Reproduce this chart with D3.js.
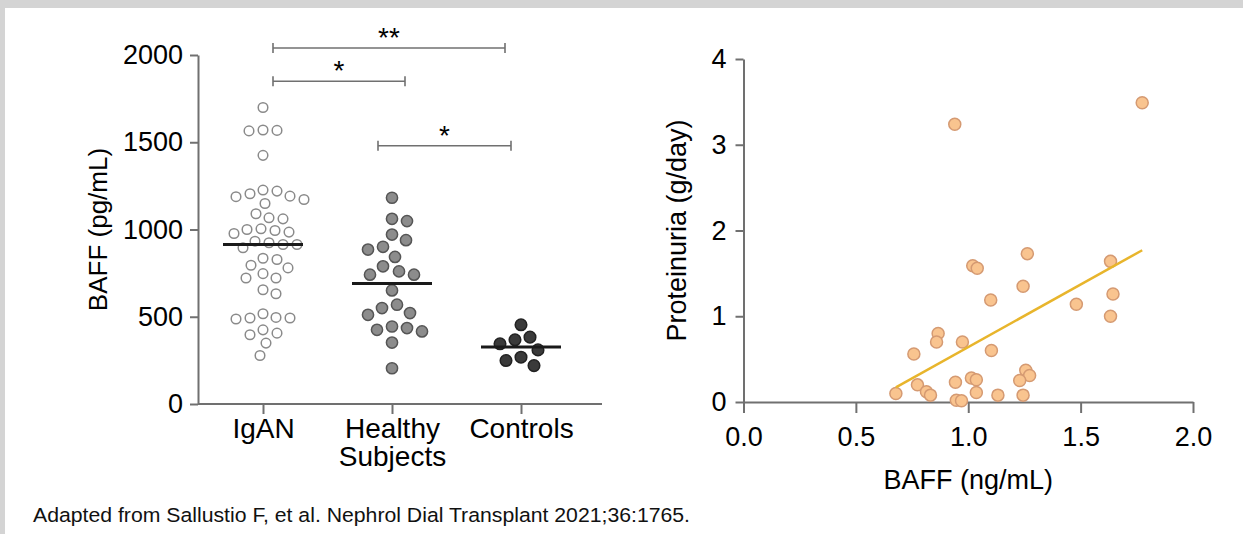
<!DOCTYPE html>
<html>
<head>
<meta charset="utf-8">
<script src="https://cdn.jsdelivr.net/npm/d3@7"></script>
<style>
  body { margin: 0; background: #fff; }
  svg { display: block; font-family: Arial, "Liberation Sans", sans-serif; }
</style>
</head>
<body>
<svg id="chart" width="1243" height="534"></svg>
<script>
// ---- data ----
var categories = ["IgAN", "Healthy Subjects", "Controls"];

var iganBaff = [1699, 1570, 1565, 1568, 1425, 1191, 1149, 1220, 1172, 1188, 1205, 1226,
    1061, 1067, 1090, 1004, 1000, 977, 985, 994, 914, 924, 933, 895, 914,
    835, 795, 828, 780, 747, 722, 722, 655, 632, 493, 493, 496, 487, 517,
    397, 406, 425, 349, 278];
var healthyBaff = [1182, 1061, 1048, 971, 939, 885, 901, 843, 789, 760, 741, 741, 651,
    550, 511, 521, 569, 435, 416, 425, 444, 352, 205];
var controlBaff = [454, 368, 383, 345, 310, 268, 220, 249];
var medians = [914, 690, 326];
var baffTicks = [0, 500, 1000, 1500, 2000];

// significance brackets: from group, to group, level (pg/mL), label
var brackets = [
    { from: 0, to: 2, level: 2040, label: "**" },
    { from: 0, to: 1, level: 1850, label: "*" },
    { from: 1, to: 2, level: 1480, label: "*" }
];

// correlation panel
var corrBaff = [0.94, 1.02, 1.04, 1.10, 0.866, 0.859, 0.974, 0.758, 0.678, 0.774,
    0.814, 0.832, 0.943, 0.947, 0.97, 1.014, 1.036, 1.036, 1.103, 1.774,
    1.263, 1.244, 1.633, 1.644, 1.481, 1.633, 1.256, 1.273, 1.229, 1.132, 1.244];
var corrProt = [3.24, 1.59, 1.56, 1.19, 0.80, 0.70, 0.70, 0.56, 0.10, 0.20,
    0.12, 0.08, 0.23, 0.02, 0.015, 0.28, 0.26, 0.11, 0.60, 3.49,
    1.73, 1.35, 1.64, 1.26, 1.14, 1.00, 0.37, 0.31, 0.25, 0.08, 0.08];
var fitLine = [1.46, -0.82]; // slope, intercept
var xTicksR = [0, 0.5, 1, 1.5, 2];
var yTicksR = [0, 1, 2, 3, 4];

var svg = d3.select("#chart");
var axisColor = "#707070";
var fontFam = "Arial, 'Liberation Sans', sans-serif";

// page frame
svg.append("rect").attr("width", 1243).attr("height", 534).attr("fill", "#fff");
svg.append("rect").attr("width", 1243).attr("height", 8).attr("fill", "#d4d4d4");
svg.append("rect").attr("width", 5).attr("height", 534).attr("fill", "#d4d4d4");

function styleAxis(g, size) {
    g.selectAll("path, line").attr("stroke", axisColor).attr("stroke-width", 2);
    g.selectAll("text").attr("fill", "#000").attr("font-size", size || 27)
        .attr("font-family", fontFam);
}

// ---- left panel: scatter dot plot ----
var yL = d3.scaleLinear().domain([0, 2000]).range([404, 55]);
var xL = d3.scalePoint().domain(categories).range([263, 521]);
var leftAxisX = 198;

svg.append("line")
    .attr("x1", leftAxisX).attr("x2", 602)
    .attr("y1", yL(0)).attr("y2", yL(0))
    .attr("stroke", axisColor).attr("stroke-width", 2);

var gxL = svg.append("g")
    .attr("transform", "translate(0," + yL(0) + ")")
    .call(d3.axisBottom(xL).tickSize(10).tickPadding(4).tickSizeOuter(0));
gxL.select(".domain").remove();
styleAxis(gxL, 28);
gxL.selectAll(".tick text").each(function(d) {
    var t = d3.select(this), words = d.split(" ");
    t.text(null);
    words.forEach(function(w, i) {
        t.append("tspan").attr("x", 0).attr("dy", i ? "1.0em" : null).text(w);
    });
});

var gyL = svg.append("g")
    .attr("transform", "translate(" + leftAxisX + ",0)")
    .call(d3.axisLeft(yL).tickValues(baffTicks).tickFormat(d3.format("d"))
        .tickSize(8).tickPadding(7).tickSizeOuter(0));
styleAxis(gyL, 27);

svg.append("text")
    .attr("transform", "translate(107," + yL(1000) + ") rotate(-90)")
    .attr("text-anchor", "middle")
    .attr("font-size", 26).attr("fill", "#000")
    .text("BAFF (pg/mL)");

// simple beeswarm so dots at similar values spread sideways
function swarm(vals, cx, D) {
    var placed = [];
    vals.slice().sort(function(a, b) { return b - a; }).forEach(function(v) {
        var py = yL(v);
        for (var k = 0; k < 400; k++) {
            var px = cx + (k % 2 ? 1 : -1) * Math.ceil(k / 2);
            var ok = placed.every(function(p) {
                return (p.x - px) * (p.x - px) + (p.y - py) * (p.y - py) >= D * D;
            });
            if (ok) { placed.push({ x: px, y: py, v: v }); break; }
        }
    });
    return placed;
}

var groups = [
    { vals: iganBaff, fill: "#fff", stroke: "#8a8a8a", r: 4.8, gap: 13.5 },
    { vals: healthyBaff, fill: "#8c8c8c", stroke: "#555", r: 5.6, gap: 15 },
    { vals: controlBaff, fill: "#3a3a3a", stroke: "#222", r: 5.8, gap: 15 }
];

groups.forEach(function(gr, i) {
    var cx = xL(categories[i]);
    svg.append("g").selectAll("circle")
        .data(swarm(gr.vals, cx, gr.gap))
        .enter().append("circle")
        .attr("cx", function(d) { return d.x; })
        .attr("cy", function(d) { return d.y; })
        .attr("r", gr.r)
        .attr("fill", gr.fill)
        .attr("stroke", gr.stroke)
        .attr("stroke-width", 1.5);
});

svg.append("g").selectAll("line")
    .data(medians)
    .enter().append("line")
    .attr("x1", function(d, i) { return xL(categories[i]) - 40; })
    .attr("x2", function(d, i) { return xL(categories[i]) + 40; })
    .attr("y1", function(d) { return yL(d); })
    .attr("y2", function(d) { return yL(d); })
    .attr("stroke", "#1a1a1a").attr("stroke-width", 3);

// brackets
var br = svg.append("g");
brackets.forEach(function(b) {
    var x1 = xL(categories[b.from]) + (b.from === 0 ? 10 : -14);
    var x2 = xL(categories[b.to]) + (b.to === 2 ? (b.from === 0 ? -16 : -10) : 13);
    var yy = yL(b.level);
    br.append("line").attr("x1", x1).attr("x2", x2).attr("y1", yy).attr("y2", yy);
    br.append("line").attr("x1", x1).attr("x2", x1).attr("y1", yy - 5).attr("y2", yy + 5);
    br.append("line").attr("x1", x2).attr("x2", x2).attr("y1", yy - 5).attr("y2", yy + 5);
    br.append("text")
        .attr("x", (x1 + x2) / 2).attr("y", yy - 1)
        .attr("text-anchor", "middle")
        .attr("font-size", 28).attr("fill", "#000")
        .text(b.label);
});
br.selectAll("line").attr("stroke", axisColor).attr("stroke-width", 1.6);

// ---- right panel: correlation ----
var xR = d3.scaleLinear().domain([0, 2]).range([743.5, 1193]);
var yR = d3.scaleLinear().domain([0, 4]).range([402, 59]);

var gxR = svg.append("g")
    .attr("transform", "translate(0," + yR(0) + ")")
    .call(d3.axisBottom(xR).tickValues(xTicksR).tickFormat(d3.format(".1f"))
        .tickSize(11).tickPadding(14).tickSizeOuter(0));
styleAxis(gxR, 27);

var gyR = svg.append("g")
    .attr("transform", "translate(" + xR(0) + ",0)")
    .call(d3.axisLeft(yR).tickValues(yTicksR).tickFormat(d3.format("d"))
        .tickSize(8).tickPadding(9).tickSizeOuter(0));
styleAxis(gyR, 27);

svg.append("text")
    .attr("transform", "translate(686," + yR(2) + ") rotate(-90)")
    .attr("text-anchor", "middle")
    .attr("font-size", 27).attr("fill", "#000")
    .text("Proteinuria (g/day)");

svg.append("text")
    .attr("x", xR(1)).attr("y", 489)
    .attr("text-anchor", "middle")
    .attr("font-size", 27).attr("fill", "#000")
    .text("BAFF (ng/mL)");

var pts = corrBaff.map(function(b, i) { return { x: b, y: corrProt[i] }; });

svg.append("g").selectAll("circle")
    .data(pts)
    .enter().append("circle")
    .attr("cx", function(d) { return xR(d.x); })
    .attr("cy", function(d) { return yR(d.y); })
    .attr("r", 6)
    .attr("fill", "#f9c48f")
    .attr("stroke", "#d59a72")
    .attr("stroke-width", 1.5);

var xExt = d3.extent(corrBaff);
svg.append("line")
    .attr("x1", xR(xExt[0])).attr("y1", yR(fitLine[0] * xExt[0] + fitLine[1]))
    .attr("x2", xR(xExt[1])).attr("y2", yR(fitLine[0] * xExt[1] + fitLine[1]))
    .attr("stroke", "#e8b52c").attr("stroke-width", 2.5);

// footnote
svg.append("text")
    .attr("x", 33).attr("y", 522)
    .attr("font-size", 20.5).attr("fill", "#111")
    .attr("textLength", 657).attr("lengthAdjust", "spacingAndGlyphs")
    .text("Adapted from Sallustio F, et al. Nephrol Dial Transplant 2021;36:1765.");
</script>
</body>
</html>
